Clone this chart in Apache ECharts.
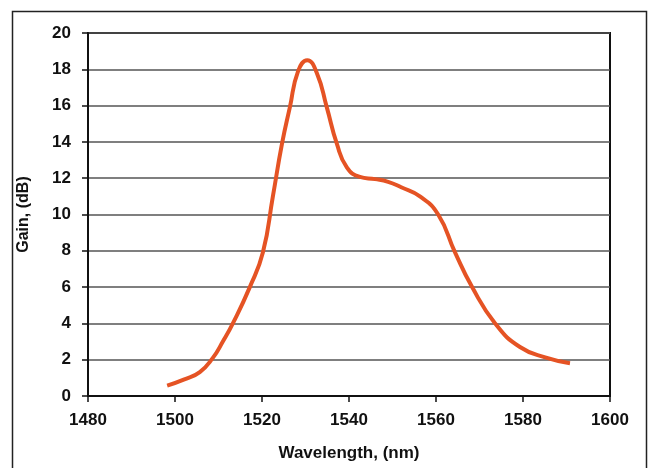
<!DOCTYPE html>
<html>
<head>
<meta charset="utf-8">
<script src="https://cdn.jsdelivr.net/npm/echarts@6/dist/echarts.min.js"></script>
<style>
  html, body { margin: 0; padding: 0; background: #fff; }
  #container { width: 650px; height: 468px; }
</style>
</head>
<body>
<div id="container"></div>
<script>
// wavelength (nm) and gain (dB)
const wavelength = [1498.2, 1502, 1505.7, 1508.7, 1511, 1513.3, 1517.2, 1520.2, 1522.5, 1524.6, 1526.4, 1528.3, 1530.4, 1532.6, 1534.9, 1537.2, 1539.5, 1542.5, 1546, 1549, 1552, 1556.3, 1560.5, 1564.4, 1568.3, 1573.6, 1579.3, 1585.5, 1590.8];
const gain = [0.57, 0.9, 1.32, 2.1, 3.0, 4.0, 6.0, 7.9, 11.0, 13.9, 15.9, 17.9, 18.5, 17.8, 15.9, 13.9, 12.6, 12.07, 11.95, 11.8, 11.5, 11.0, 10.0, 7.9, 6.0, 4.0, 2.7, 2.1, 1.8];
const xTicks = [1480, 1600, 20];
const yTicks = [0, 20, 2];

const FONT = "'Liberation Sans Narrow', 'Liberation Sans', Arial, sans-serif";
const LINE_COLOR = '#e55324';

let dom = document.getElementById("container");
let myChart = echarts.init(dom);

let seriesData = wavelength.map(function (w, i) {
    return [w, gain[i]];
});

let option = {
    backgroundColor: '#fff',
    animation: false,
    grid: {
        left: 88,
        top: 33,
        width: 522,
        height: 363,
        show: true,
        borderColor: '#111',
        borderWidth: 2,
        backgroundColor: 'transparent'
    },
    graphic: [{
        type: 'rect',
        shape: { x: 12.5, y: 11.5, width: 634, height: 470 },
        style: { fill: 'none', stroke: '#222', lineWidth: 1.5 },
        silent: true
    }],
    xAxis: {
        type: 'value',
        min: xTicks[0],
        max: xTicks[1],
        interval: xTicks[2],
        name: 'Wavelength, (nm)',
        nameLocation: 'middle',
        nameGap: 49,
        nameTextStyle: { fontFamily: FONT, fontWeight: 'bold', fontSize: 17, color: '#111' },
        axisLine: { show: true, onZero: false, lineStyle: { color: '#111', width: 2 } },
        axisTick: { show: true, length: 6, lineStyle: { color: '#111', width: 1.5 } },
        axisLabel: {
            margin: 16, fontFamily: FONT, fontWeight: 'bold', fontSize: 17, color: '#111',
            formatter: function (v) { return String(v); }
        },
        splitLine: { show: false }
    },
    yAxis: {
        type: 'value',
        min: yTicks[0],
        max: yTicks[1],
        interval: yTicks[2],
        name: 'Gain, (dB)',
        nameLocation: 'middle',
        nameGap: 56,
        nameTextStyle: { fontFamily: FONT, fontWeight: 'bold', fontSize: 16, color: '#111' },
        axisLine: { show: true, lineStyle: { color: '#111', width: 2 } },
        axisTick: { show: true, length: 6, lineStyle: { color: '#111', width: 1.5 } },
        axisLabel: { margin: 17, fontFamily: FONT, fontWeight: 'bold', fontSize: 17, color: '#111' },
        splitLine: { show: true, lineStyle: { color: '#555', width: 1.5 } }
    },
    series: [{
        type: 'line',
        data: seriesData,
        smooth: 0.5,
        showSymbol: false,
        lineStyle: { color: LINE_COLOR, width: 4 }
    }]
};

myChart.setOption(option, true);
</script>
</body>
</html>
